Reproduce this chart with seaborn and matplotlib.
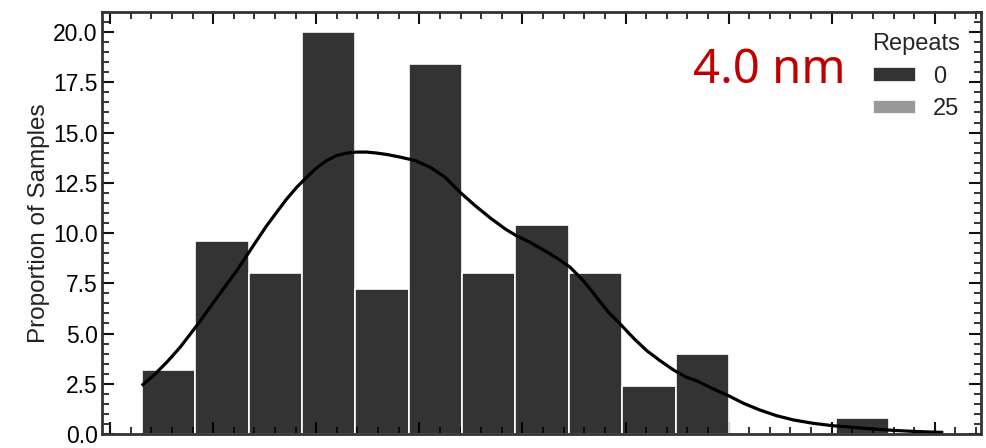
import pandas as pd
import matplotlib
matplotlib.use("Agg")
import matplotlib.pyplot as plt
from matplotlib.ticker import MultipleLocator
import seaborn as sns

# Histogram proportions (%) per bin, for each repeat count
proportion_0 = [3.2, 9.6, 8.0, 20.0, 7.2, 18.4, 8.0, 10.4, 8.0, 2.4, 4.0, 0.0, 0.0, 0.8]
proportion_25 = [0.0] * 14
repeat_levels = [0, 25]

# Smoothed density curve (x, proportion)
kde_x = [0.307, 0.420, 0.550, 0.679, 0.841, 0.970, 1.099, 1.229, 1.326, 1.423,
         1.520, 1.617, 1.714, 1.811, 1.908, 2.005, 2.102, 2.199, 2.296, 2.393,
         2.490, 2.587, 2.684, 2.813, 2.958, 3.104, 3.249, 3.395, 3.540, 3.686,
         3.831, 3.944, 4.074, 4.203, 4.333, 4.462, 4.591, 4.720, 4.834, 4.947,
         5.076, 5.205, 5.335, 5.464, 5.593, 5.690, 5.852, 5.997, 6.143, 6.305,
         6.466, 6.628, 6.822, 7.016, 7.210, 7.404, 7.598, 7.792, 7.953, 8.083]
kde_y = [2.41, 2.90, 3.57, 4.31, 5.39, 6.31, 7.22, 8.13, 8.88, 9.63,
         10.37, 11.04, 11.70, 12.28, 12.78, 13.25, 13.61, 13.86, 13.98, 14.03,
         14.03, 13.98, 13.91, 13.78, 13.61, 13.28, 12.78, 12.03, 11.37, 10.76,
         10.21, 9.86, 9.54, 9.16, 8.76, 8.30, 7.63, 6.80, 6.06, 5.48,
         4.78, 4.15, 3.65, 3.19, 2.82, 2.65, 2.24, 1.91, 1.53, 1.19,
         0.91, 0.70, 0.53, 0.41, 0.33, 0.25, 0.18, 0.13, 0.10, 0.08]

label_text = "4.0 nm"

# Bin layout
bin_start = 0.31
bin_width = 0.5175
n_bins = len(proportion_0)
edges = [bin_start + bin_width * i for i in range(n_bins + 1)]
centers = [(a + b) / 2 for a, b in zip(edges[:-1], edges[1:])]

df = pd.DataFrame({
    "x": centers + centers,
    "proportion": proportion_0 + proportion_25,
    "Repeats": [repeat_levels[0]] * n_bins + [repeat_levels[1]] * n_bins,
})

sns.set_style("ticks")
plt.rcParams["font.family"] = ["Liberation Sans", "DejaVu Sans"]

fig = plt.figure(figsize=(9.86, 4.48), dpi=100)
ax = fig.add_axes([102 / 986, 1 - 434 / 448, 879 / 986, 422 / 448])

sns.histplot(data=df, x="x", weights="proportion", hue="Repeats", bins=edges,
             palette={0: "black", 25: "gray"}, alpha=0.8, edgecolor="white",
             linewidth=1.2, ax=ax)
sns.lineplot(x=kde_x, y=kde_y, color="black", lw=2.3, ax=ax, legend=False,
             solid_joinstyle="round", solid_capstyle="butt")

ax.set_xlim(-0.078, 8.448)
ax.set_ylim(0, 21)
ax.xaxis.set_major_locator(MultipleLocator(1))
ax.xaxis.set_minor_locator(MultipleLocator(0.2))
ax.yaxis.set_major_locator(MultipleLocator(2.5))
ax.yaxis.set_minor_locator(MultipleLocator(0.5))
ax.tick_params(which="both", direction="in", top=True, right=True,
               bottom=True, left=True, labelbottom=False, colors="#111111")
ax.tick_params(which="major", length=8.4, width=1.5, labelsize=16.5,
               labelcolor="black", pad=3)
ax.tick_params(which="minor", length=4.8, width=1.2)
for sp in ax.spines.values():
    sp.set_linewidth(2)
    sp.set_color("#333333")

ax.set_xlabel("")
ax.set_ylabel("Proportion of Samples", fontsize=17.5, labelpad=2, color="#222222")

ax.text(0.672, 0.831, label_text, transform=ax.transAxes, ha="left", va="baseline",
        color="#c00000", fontsize=34, family=["Noto Sans", "DejaVu Sans"])

sns.move_legend(ax, "upper right", bbox_to_anchor=(1.0, 1.0), frameon=False,
                fontsize=17, title_fontsize=17, handlelength=1.82,
                handleheight=0.55, handletextpad=0.72, labelspacing=0.45)

fig.savefig("out.png", dpi=100)
